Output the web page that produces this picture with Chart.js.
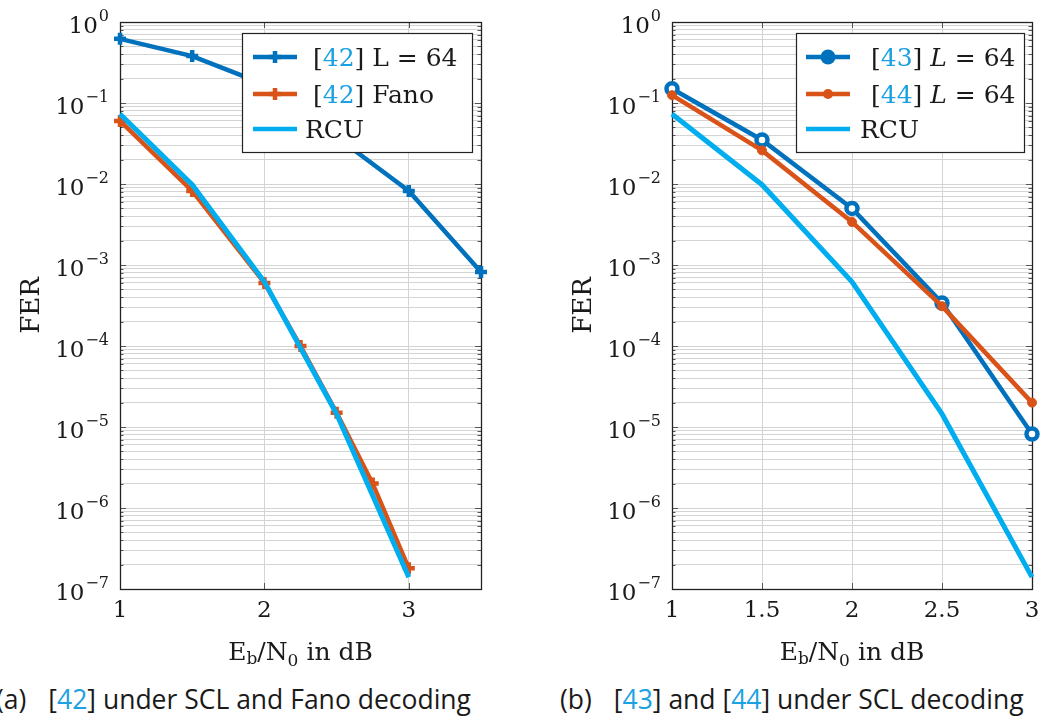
<!DOCTYPE html>
<html>
<head>
<meta charset="utf-8">
<script src="https://cdn.jsdelivr.net/npm/chart.js@4.4.0/dist/chart.umd.min.js"></script>
<style>
body { margin: 0; background: #fff; width: 1043px; height: 724px; position: relative; overflow: hidden; }
.box { position: absolute; top: 0; }
.cap { position: absolute; top: 681px; font-family: 'Open Sans', sans-serif; font-size: 26.5px; color: #1a1a1a; white-space: pre; }
.cap .r { color: #1ba1e2; }
.cap .gap { display: inline-block; width: 22px; }
</style>
</head>
<body>
<div class="box" style="left:0"><canvas id="chartA" width="540" height="680"></canvas></div>
<div class="box" style="left:540px"><canvas id="chartB" width="503" height="680"></canvas></div>
<div class="cap" style="left:-4px">(a)<span class="gap"></span>[<span class="r">42</span>] under SCL and Fano decoding</div>
<div class="cap" style="left:560px">(b)<span class="gap"></span>[<span class="r">43</span>] and [<span class="r">44</span>] under SCL decoding</div>
<script>
// valores (FER em escala log)
const snrA = [1, 1.5, 2, 2.5, 3, 3.5]
const fer42List = [0.62, 0.38, 0.17, 0.038, 0.0082, 0.00082]
const snrFano = [1, 1.5, 2, 2.25, 2.5, 2.75, 3]
const fer42Fano = [0.06, 0.0082, 6e-4, 1e-4, 1.5e-5, 2e-6, 1.8e-7]
const snrRcu = [1, 1.5, 2, 2.5, 3]
const ferRcu = [0.073, 0.0098, 6.2e-4, 1.45e-5, 1.4e-7]
const snrB = [1, 1.5, 2, 2.5, 3]
const fer43 = [0.15, 0.035, 0.005, 3.4e-4, 8.2e-6]
const fer44 = [0.125, 0.026, 0.0034, 3.1e-4, 2e-5]

const xTicksA = [1, 2, 3]
const xTicksB = [1, 1.5, 2, 2.5, 3]
const yTickExps = [0, -1, -2, -3, -4, -5, -6, -7]

const BLUE = '#0072BD'
const ORANGE = '#D95319'
const CYAN = '#00AEEF'
const REF = '#1ba1e2'
const INK = '#1a1a1a'
const SERIF = "'DejaVu Serif', serif"

const pts = (xs, ys) => xs.map((x, i) => ({ x, y: ys[i] }))

// grade menor: 1..9 x 10^e
const yGrid = []
for (let e = -7; e < 0; e++) for (let m = 1; m < 10; m++) yGrid.push(+(m * Math.pow(10, e)).toPrecision(3))
yGrid.push(1)

function drawMarker(ctx, kind, x, y, color) {
  ctx.save()
  if (kind === 'cross') {
    ctx.strokeStyle = color; ctx.lineWidth = 4.5
    ctx.beginPath(); ctx.moveTo(x - 6, y); ctx.lineTo(x + 6, y); ctx.moveTo(x, y - 6); ctx.lineTo(x, y + 6); ctx.stroke()
  } else if (kind === 'ring') {
    ctx.fillStyle = color
    ctx.beginPath(); ctx.arc(x, y, 7.5, 0, Math.PI * 2); ctx.fill()
  } else if (kind === 'dot') {
    ctx.fillStyle = color
    ctx.beginPath(); ctx.arc(x, y, 5, 0, Math.PI * 2); ctx.fill()
  }
  ctx.restore()
}

function drawRuns(ctx, x, baseline, runs) {
  for (const r of runs) {
    ctx.font = (r.italic ? 'italic ' : '') + (r.size || 25) + 'px ' + SERIF
    ctx.fillStyle = r.color || INK
    ctx.fillText(r.t, x, baseline + (r.dy || 0))
    x += ctx.measureText(r.t).width
  }
}
function runsWidth(ctx, runs) {
  let w = 0
  for (const r of runs) {
    ctx.font = (r.italic ? 'italic ' : '') + (r.size || 25) + 'px ' + SERIF
    w += ctx.measureText(r.t).width
  }
  return w
}

const texAxes = {
  id: 'texAxes',
  beforeDatasetsDraw(chart) {
    const { ctx, chartArea: a, scales: { x, y } } = chart
    ctx.save()
    ctx.strokeStyle = '#555'; ctx.lineWidth = 1
    ctx.beginPath()
    yGrid.forEach(v => {
      const py = Math.round(y.getPixelForValue(v)) + 0.5
      const len = Number.isInteger(Math.log10(v)) ? 6 : 3.5
      ctx.moveTo(a.left, py); ctx.lineTo(a.left + len, py)
      ctx.moveTo(a.right, py); ctx.lineTo(a.right - len, py)
    })
    x.ticks.forEach(t => {
      const px = Math.round(x.getPixelForValue(t.value)) + 0.5
      ctx.moveTo(px, a.bottom); ctx.lineTo(px, a.bottom - 6)
      ctx.moveTo(px, a.top); ctx.lineTo(px, a.top + 6)
    })
    ctx.stroke()
    ctx.strokeStyle = '#222'; ctx.lineWidth = 1.3
    ctx.strokeRect(Math.round(a.left) + 0.5, Math.round(a.top) + 0.5, Math.round(a.right - a.left), Math.round(a.bottom - a.top))
    ctx.restore()
  },
  afterDraw(chart, args, opts) {
    const { ctx, chartArea: a, scales: { x, y } } = chart
    ctx.save()
    // rótulos do eixo y: 10^e
    yTickExps.forEach(e => {
      const py = y.getPixelForValue(Math.pow(10, e))
      const sup = e === 0 ? '0' : '\u2212' + Math.abs(e)
      ctx.textAlign = 'right'; ctx.fillStyle = INK
      ctx.font = '16px ' + SERIF
      const sx = a.left - 11
      ctx.fillText(sup, sx, py - 1)
      const sw = ctx.measureText(sup).width
      ctx.font = '23px ' + SERIF
      ctx.fillText('10', sx - sw - 1, py + 11)
    })
    // rótulos do eixo x
    ctx.textAlign = 'center'; ctx.font = '23px ' + SERIF; ctx.fillStyle = INK
    x.ticks.forEach((t, i) => ctx.fillText(opts.xLabels[i], x.getPixelForValue(t.value), a.bottom + 28))
    // título x
    ctx.textAlign = 'left'
    const title = [{ t: 'E' }, { t: 'b', size: 17, dy: 4 }, { t: '/N' }, { t: '0', size: 17, dy: 6 }, { t: ' in dB' }]
    const tw = runsWidth(ctx, title)
    drawRuns(ctx, (a.left + a.right) / 2 - tw / 2, a.bottom + 71, title)
    // título y
    ctx.save()
    ctx.translate(opts.ferX, (a.top + a.bottom) / 2)
    ctx.rotate(-Math.PI / 2)
    ctx.textAlign = 'center'; ctx.font = '26px ' + SERIF; ctx.fillStyle = INK
    ctx.fillText('FER', 0, 0)
    ctx.restore()
    // legenda
    const L = opts.legend
    ctx.fillStyle = '#fff'; ctx.fillRect(L.x, L.y, L.w, L.h)
    ctx.strokeStyle = '#222'; ctx.lineWidth = 1.2
    ctx.strokeRect(L.x + 0.5, L.y + 0.5, L.w, L.h)
    ctx.textAlign = 'left'
    L.items.forEach((it, i) => {
      const cy = L.rows[i]
      ctx.strokeStyle = it.color; ctx.lineWidth = 4.5
      ctx.beginPath(); ctx.moveTo(L.lineX, cy); ctx.lineTo(L.lineX + 44, cy); ctx.stroke()
      if (it.marker) drawMarker(ctx, it.marker, L.lineX + 22, cy, it.color)
      drawRuns(ctx, it.textX, cy + 9, it.runs)
    })
    ctx.restore()
  }
}

function makeChart(id, datasets, xMin, xMax, xTicks, pad, plugOpts) {
  return new Chart(document.getElementById(id), {
    type: 'line',
    data: { datasets },
    options: {
      responsive: false,
      animation: false,
      layout: { padding: pad },
      plugins: { legend: { display: false }, tooltip: { enabled: false }, texAxes: plugOpts },
      scales: {
        x: {
          type: 'linear', min: xMin, max: xMax,
          afterBuildTicks: s => { s.ticks = xTicks.map(v => ({ value: v })) },
          ticks: { display: false },
          grid: { color: '#d4d4d4', lineWidth: 1, drawTicks: false },
          border: { display: false }
        },
        y: {
          type: 'logarithmic', min: 1e-7, max: 1,
          afterBuildTicks: s => { s.ticks = yGrid.map(v => ({ value: v })) },
          ticks: { display: false },
          grid: { color: '#d4d4d4', lineWidth: 1, drawTicks: false },
          border: { display: false }
        }
      }
    },
    plugins: [texAxes]
  })
}

const lineDs = (label, data, color, style, radius, order, extra) => Object.assign({
  label, data, borderColor: color, backgroundColor: color,
  borderWidth: 4.5, pointStyle: style, pointRadius: radius, pointBorderWidth: 4.5,
  pointBackgroundColor: color, pointBorderColor: color,
  tension: 0, clip: false, order
}, extra || {})

makeChart('chartA', [
  lineDs('[42] L = 64', pts(snrA, fer42List), BLUE, 'cross', 6, 3),
  lineDs('[42] Fano', pts(snrFano, fer42Fano), ORANGE, 'cross', 6, 2),
  lineDs('RCU', pts(snrRcu, ferRcu), CYAN, false, 0, 1, { borderWidth: 5 })
], 1, 3.5, xTicksA, { left: 120, right: 59, top: 22, bottom: 91 }, {
  xLabels: ['1', '2', '3'],
  ferX: 39,
  legend: {
    x: 242, y: 33, w: 230, h: 119, lineX: 253, rows: [57, 94, 129],
    items: [
      { color: BLUE, marker: 'cross', textX: 313, runs: [{ t: '[' }, { t: '42', color: REF }, { t: '] L = 64' }] },
      { color: ORANGE, marker: 'cross', textX: 313, runs: [{ t: '[' }, { t: '42', color: REF }, { t: '] Fano' }] },
      { color: CYAN, textX: 305, runs: [{ t: 'RCU' }] }
    ]
  }
})

makeChart('chartB', [
  lineDs('[43] L = 64', pts(snrB, fer43), BLUE, 'circle', 5.5, 3, { pointBackgroundColor: '#fff' }),
  lineDs('[44] L = 64', pts(snrB, fer44), ORANGE, 'circle', 4.5, 2, { pointBorderWidth: 1 }),
  lineDs('RCU', pts(snrRcu, ferRcu), CYAN, false, 0, 1, { borderWidth: 5 })
], 1, 3, xTicksB, { left: 132, right: 11, top: 22, bottom: 91 }, {
  xLabels: ['1', '1.5', '2', '2.5', '3'],
  ferX: 51,
  legend: {
    x: 256, y: 33, w: 228, h: 119, lineX: 266, rows: [57, 94, 129],
    items: [
      { color: BLUE, marker: 'ring', textX: 331, runs: [{ t: '[' }, { t: '43', color: REF }, { t: '] ' }, { t: 'L', italic: true }, { t: ' = 64' }] },
      { color: ORANGE, marker: 'dot', textX: 331, runs: [{ t: '[' }, { t: '44', color: REF }, { t: '] ' }, { t: 'L', italic: true }, { t: ' = 64' }] },
      { color: CYAN, textX: 320, runs: [{ t: 'RCU' }] }
    ]
  }
})
</script>
</body>
</html>
